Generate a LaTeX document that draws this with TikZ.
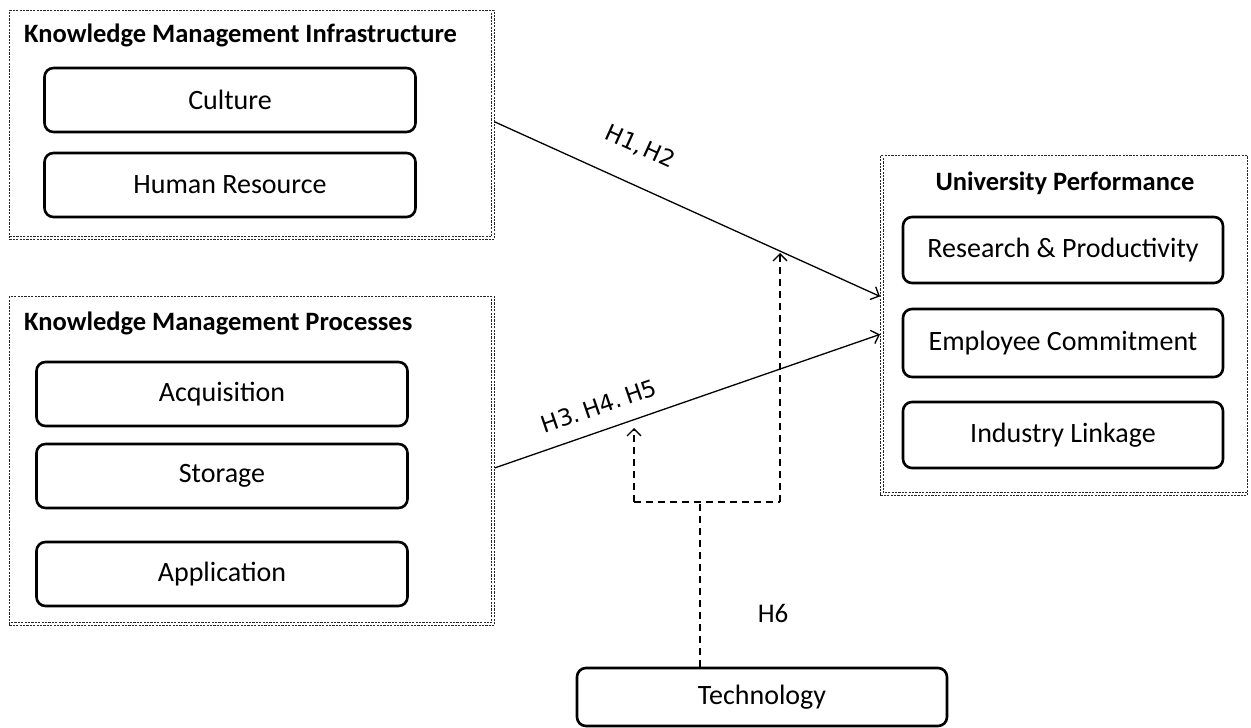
\documentclass[tikz,border=0pt]{standalone}
\usepackage{fontspec}
\setmainfont{Carlito}
\newfontfamily\labelfont[WordSpace=0.35]{DejaVu Sans}
\usetikzlibrary{arrows.meta,calc}
\begin{document}
\begin{tikzpicture}[x=1pt,y=-1pt,
  framebox/.style={draw=black!85,line width=0.8pt,dash pattern=on 2.2pt off 1.2pt,
    minimum width=#1,anchor=north west,inner sep=0pt},
  frameline/.style={draw=black!85,line width=0.8pt,dash pattern=on 2.2pt off 1.2pt},
  item/.style={draw,line width=2.6pt,rounded corners=9pt,minimum width=371pt,minimum height=64pt,
    inner sep=0pt,font=\fontsize{28}{32}\selectfont},
  title/.style={font=\bfseries\fontsize{26.5}{30}\selectfont,inner sep=0pt},
  link/.style={line width=1.3pt,-{Straight Barb[length=7pt,width=14pt,line width=1.3pt]}},
  modline/.style={line width=2pt,dash pattern=on 7pt off 5pt},
  modarrow/.style={modline,-{Straight Barb[length=7pt,width=14pt,line width=1.3pt]}},
  hlabel/.style={font=\labelfont\fontsize{23}{26}\selectfont,inner sep=0pt}]
\useasboundingbox (0,0) rectangle (1251,728);

% outer frames (double dotted outline)
\node[framebox=485pt,minimum height=229pt] (kmi) at (9,10) {};
\draw[frameline]
  ($(kmi.north east)+(-3,3)$) -- ($(kmi.south east)+(-3,-3)$) -- ($(kmi.south west)+(0,-3)$);
\node[framebox=485pt,minimum height=329pt] (kmp) at (9,296) {};
\draw[frameline]
  ($(kmp.north east)+(-3,3)$) -- ($(kmp.south east)+(-3,-3)$) -- ($(kmp.south west)+(0,-3)$);
\node[framebox=367pt,minimum height=340pt] (up) at (880,155) {};
\draw[frameline]
  ($(up.north west)+(3,3)$) -- ($(up.south west)+(3,-3)$) -- ($(up.south east)+(0,-3)$);

% group titles
\node[title,anchor=west] (kmit) at (24,35) {Knowledge Management Infrastructure};
\node[title,anchor=west] (kmpt) at (24,323) {Knowledge Management Processes};
\node[title] (upt) at (1065,183) {University Performance};

% constructs
\node[item] (culture) at (230,100) {Culture};
\node[item] (human) at (230,185) {Human Resource};
\node[item] (acq) at (222,394) {Acquisition};
\node[item] (sto) at (222,476) {Storage};
\node[item] (app) at (222,574) {Application};
\node[item,minimum width=320pt,minimum height=66pt] (res) at (1063,250) {Research \& Productivity};
\node[item,minimum width=320pt,minimum height=68pt] (emp) at (1063,343) {Employee Commitment};
\node[item,minimum width=320pt,minimum height=66pt] (ind) at (1063,435) {Industry Linkage};
\node[item,minimum width=370pt,minimum height=58pt] (tech) at (762,697) {Technology};

% direct effects
\coordinate (s1) at ($(kmi.east)+(0,-3)$);
\coordinate (e1) at ($(up.west)+(0,-29)$);
\coordinate (s2) at ($(kmp.east)+(0,7)$);
\coordinate (e2) at ($(up.west)+(0,9)$);
\draw[link] (s1) -- (e1);
\draw[link] (s2) -- (e2);
\node[hlabel,rotate=-24.4] (h12) at (640,147) {H1, H2};
\node[hlabel,rotate=19] (h345) at (599,406) {H3. H4. H5};

% moderating effect of technology
\coordinate (mj) at (700,502);
\coordinate (ml) at (634,502);
\coordinate (mr) at (780,502);
\coordinate (tl) at (634,428);
\coordinate (tr) at (780,253);
\draw[modline] (tech.north -| mj) -- (mj);
\draw[modline] (ml) -- (mr);
\draw[modarrow] (ml) -- (tl);
\draw[modarrow] (mr) -- (tr);
\node[font=\fontsize{27}{30}\selectfont,inner sep=0pt] (h6) at (773,613) {H6};
\end{tikzpicture}
\end{document}
